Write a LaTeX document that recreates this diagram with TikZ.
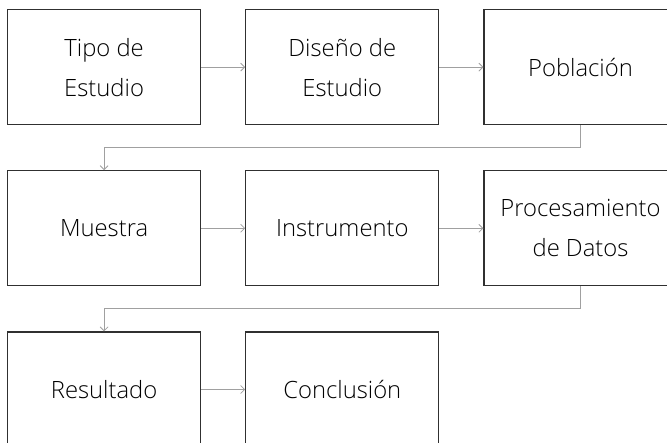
\documentclass[tikz,border=0pt]{standalone}
\usepackage{fontspec}
\setmainfont[UprightFont={* Light}]{Open Sans}
\usetikzlibrary{positioning,arrows.meta,calc}
\definecolor{lineagris}{HTML}{A0A0A0}
\definecolor{bordegris}{HTML}{303030}

\begin{document}
\begin{tikzpicture}
		[x=1pt,y=-1pt,
		 every node/.style={draw=bordegris,line width=1.2pt,minimum width=193pt,minimum height=115pt,
		 	align=center,inner sep=0pt,text=black,font=\fontsize{23.8}{40}\selectfont},
		 flecha/.style={draw=lineagris,line width=0.8pt,-{Straight Barb[length=4pt,width=8pt]}},
		 node distance=45pt and 44pt]
		\useasboundingbox (0,0) rectangle (667,443);
		
		\node[anchor=north west] (Tipo) at (7,9) {Tipo de\\Estudio};
		\node[right=of Tipo] (Diseno) {Diseño de\\Estudio};
		\node[right=of Diseno] (Poblacion) {Población};
		
		\node[below=of Tipo] (Muestra) {Muestra};
		\node[right=of Muestra] (Instrumento) {Instrumento};
		\node[right=of Instrumento] (Procesamiento) {Procesamiento\\de Datos};
		
		\node[below=of Muestra] (Resultado) {Resultado};
		\node[right=of Resultado] (Conclusion) {Conclusión};
		
		\draw[flecha] (Tipo) -- (Diseno);
		\draw[flecha] (Diseno) -- (Poblacion);
		\draw[flecha] (Poblacion.south) |- ($(Poblacion.south)!0.5!(Procesamiento.north)$) coordinate(c1) -| (Muestra.north);
		
		\draw[flecha] (Muestra) -- (Instrumento);
		\draw[flecha] (Instrumento) -- (Procesamiento);
		\draw[flecha] (Procesamiento.south) |- ($(Procesamiento.south)!0.5!(Conclusion.north-|Procesamiento.north)$) coordinate(c2) -| (Resultado.north);
		
		\draw[flecha] (Resultado) -- (Conclusion);
		
		\end{tikzpicture}
\end{document}
